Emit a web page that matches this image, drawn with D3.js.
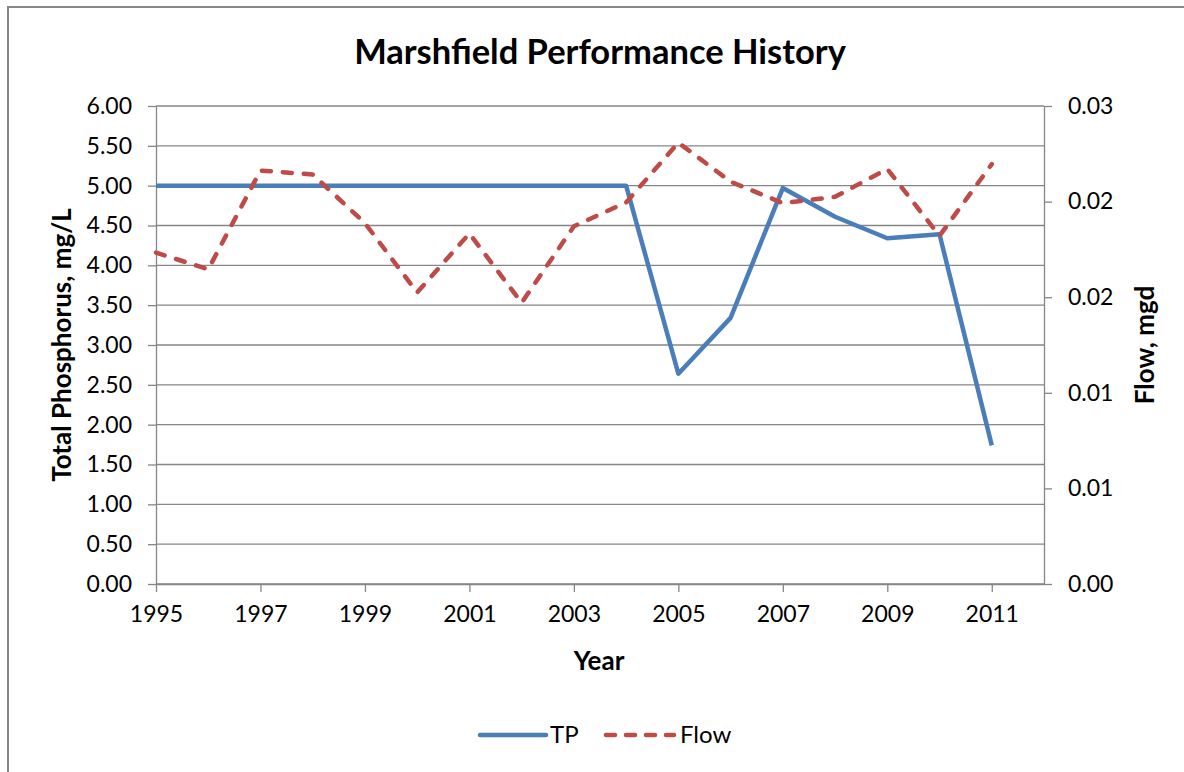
<!DOCTYPE html>
<html>
<head>
<meta charset="utf-8">
<script src="https://cdnjs.cloudflare.com/ajax/libs/d3/7.8.5/d3.min.js"></script>
<style>
  body { margin: 0; background: #fff; }
  svg text { font-family: Lato, "Open Sans", sans-serif; fill: #000; }
</style>
</head>
<body>
<script>
// values
var years = [1995, 1996, 1997, 1998, 1999, 2000, 2001, 2002, 2003, 2004, 2005, 2006, 2007, 2008, 2009, 2010, 2011];
var tp = [5.00, 5.00, 5.00, 5.00, 5.00, 5.00, 5.00, 5.00, 5.00, 5.00, 2.64, 3.34, 4.97, 4.61, 4.34, 4.39, 1.74];
var flow = [0.0208, 0.01975, 0.02595, 0.0257, 0.02265, 0.0183, 0.022, 0.01765, 0.02245, 0.02395,
            0.0277, 0.02525, 0.0239, 0.0243, 0.02605, 0.02185, 0.02635];

var xTicks = [1995, 1997, 1999, 2001, 2003, 2005, 2007, 2009, 2011];
var leftTicks = [0, 0.5, 1, 1.5, 2, 2.5, 3, 3.5, 4, 4.5, 5, 5.5, 6];
var rightTicks = [0, 0.006, 0.012, 0.018, 0.024, 0.03];

var W = 1184, H = 772;
var margin = { top: 106, right: 140, bottom: 188, left: 156 };
var width = W - margin.left - margin.right,
    height = H - margin.top - margin.bottom;

var blue = "#4a7ebb", red = "#be4b48", grey = "#868686";

var svg = d3.select("body").append("svg")
    .attr("width", W)
    .attr("height", H);

// chart frame
svg.append("rect")
    .attr("x", 8).attr("y", 7)
    .attr("width", W + 20).attr("height", H + 20)
    .attr("fill", "#fff")
    .attr("stroke", grey)
    .attr("stroke-width", 2);

var g = svg.append("g")
    .attr("transform", "translate(" + margin.left + "," + margin.top + ")");

var x = d3.scaleLinear().domain([1995, 2012]).range([0, width]);
var yL = d3.scaleLinear().domain([0, 6]).range([height, 0]);
var yR = d3.scaleLinear().domain([0, 0.03]).range([height, 0]);

// horizontal gridlines
g.append("g")
  .selectAll("line")
  .data(leftTicks)
  .enter().append("line")
    .attr("x1", 0).attr("x2", width)
    .attr("y1", function (d) { return yL(d); })
    .attr("y2", function (d) { return yL(d); })
    .attr("stroke", grey)
    .attr("stroke-width", 1.3);

function styleAxis(sel) {
  sel.select(".domain").attr("stroke", grey).attr("stroke-width", 1.3);
  sel.selectAll(".tick line").attr("stroke", grey).attr("stroke-width", 1.3);
  sel.selectAll(".tick text").style("font-size", "23px").attr("fill", "#000");
}

g.append("g")
    .attr("transform", "translate(0," + height + ")")
    .call(d3.axisBottom(x).tickValues(xTicks).tickFormat(d3.format("d"))
      .tickSize(8).tickSizeOuter(0).tickPadding(14))
    .call(styleAxis);

g.append("g")
    .call(d3.axisLeft(yL).tickValues(leftTicks).tickFormat(d3.format(".2f"))
      .tickSize(8).tickSizeOuter(0).tickPadding(16))
    .call(styleAxis);

g.append("g")
    .attr("transform", "translate(" + width + ",0)")
    .call(d3.axisRight(yR).tickValues(rightTicks).tickFormat(d3.format(".2f"))
      .tickSize(8).tickSizeOuter(0).tickPadding(16))
    .call(styleAxis);

// lines
var tpLine = d3.line()
    .x(function (d, i) { return x(years[i]); })
    .y(function (d) { return yL(d); });

var flowLine = d3.line()
    .x(function (d, i) { return x(years[i]); })
    .y(function (d) { return yR(d); });

g.append("path")
    .datum(tp)
    .attr("fill", "none")
    .attr("stroke", blue)
    .attr("stroke-width", 4.5)
    .attr("stroke-linejoin", "round")
    .attr("d", tpLine);

g.append("path")
    .datum(flow)
    .attr("fill", "none")
    .attr("stroke", red)
    .attr("stroke-width", 4.5)
    .attr("stroke-linecap", "round")
    .attr("stroke-linejoin", "round")
    .attr("stroke-dasharray", "9,12")
    .attr("d", flowLine);

// titles
svg.append("text")
    .attr("x", 600).attr("y", 64)
    .attr("text-anchor", "middle")
    .style("font-size", "34.5px").style("font-weight", "bold")
    .text("Marshfield Performance History");

svg.append("text")
    .attr("x", 599).attr("y", 670)
    .attr("text-anchor", "middle")
    .style("font-size", "26px").style("font-weight", "bold")
    .text("Year");

svg.append("text")
    .attr("transform", "translate(71," + (margin.top + height / 2) + ") rotate(-90)")
    .attr("text-anchor", "middle")
    .style("font-size", "26px").style("font-weight", "bold")
    .text("Total Phosphorus, mg/L");

svg.append("text")
    .attr("transform", "translate(1154," + (margin.top + height / 2) + ") rotate(-90)")
    .attr("text-anchor", "middle")
    .style("font-size", "26px").style("font-weight", "bold")
    .text("Flow, mgd");

// legend
var legend = svg.append("g").attr("transform", "translate(0,735)");
legend.append("line")
    .attr("x1", 480).attr("x2", 546)
    .attr("stroke", blue).attr("stroke-width", 4.5).attr("stroke-linecap", "round");
legend.append("text")
    .attr("x", 550).attr("y", 8)
    .style("font-size", "24px")
    .text("TP");
legend.append("line")
    .attr("x1", 606).attr("x2", 674)
    .attr("stroke", red).attr("stroke-width", 4.5).attr("stroke-linecap", "round")
    .attr("stroke-dasharray", "9,11");
legend.append("text")
    .attr("x", 680).attr("y", 8)
    .style("font-size", "24px")
    .text("Flow");
</script>
</body>
</html>
